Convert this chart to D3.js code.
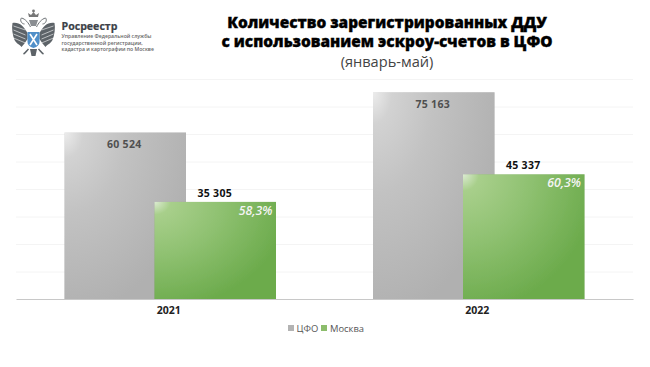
<!DOCTYPE html>
<html><head><meta charset="utf-8">
<script src="https://cdnjs.cloudflare.com/ajax/libs/d3/7.8.5/d3.min.js"></script>
<style>html,body{margin:0;padding:0;background:#fff}svg{display:block}text{font-family:"Open Sans",sans-serif}</style>
</head><body><svg id="c" width="650" height="367"></svg>
<script>
const categories=["2021","2022"];
const seriesNames=["ЦФО","Москва"];
const cfo=[60524,75163];
const moscow=[35305,45337];
const shares=["58,3%","60,3%"];
const gridTicks=[0,10000,20000,30000,40000,50000,60000,70000,80000];
const titleLines=["Количество зарегистрированных ДДУ","с использованием эскроу-счетов в ЦФО"];
const subtitle="(январь-май)";
const orgName="Росреестр";
const orgLines=["Управление Федеральной службы","государственной регистрации,","кадастра и картографии по Москве"];
const fmt=v=>String(v).replace(/\B(?=(\d{3})+$)/g," ");

const svg=d3.select("#c");
const defs=svg.append("defs");
function grad(id,stops){
  const g=defs.append("radialGradient").attr("id",id).attr("cx",0).attr("cy",0).attr("r",1.1)
    .attr("gradientUnits","objectBoundingBox");
  stops.forEach(s=>g.append("stop").attr("offset",s[0]).attr("stop-color",s[1]));
}
grad("gGray",[[0,"#ececec"],[0.14,"#d2d2d2"],[0.45,"#c2c2c2"],[1,"#b0b0b0"]]);
grad("gGreen",[[0,"#dcebd2"],[0.12,"#a8cf8b"],[0.5,"#8fc171"],[1,"#6cab4c"]]);
const f=defs.append("filter").attr("id","sh").attr("x","-5%").attr("y","-5%").attr("width","110%").attr("height","110%");
f.append("feDropShadow").attr("dx",0).attr("dy",0).attr("stdDeviation",0.6).attr("flood-color","#000").attr("flood-opacity",0.25);

const x=d3.scaleBand().domain(categories).range([16,633]);
const y=d3.scaleLinear().domain([0,80000]).range([299,79]);
const barW=121.5, overlapOff=90;
const gx=c=>x(c)+x.bandwidth()/2-(barW+overlapOff)/2;

// grid
svg.append("g").selectAll("line").data(gridTicks.slice(1)).join("line")
  .attr("x1",16).attr("x2",633).attr("y1",d=>y(d)+.5).attr("y2",d=>y(d)+.5)
  .attr("stroke","#f4f4f4").attr("stroke-width",1);
const ax=d3.axisBottom(x).tickSize(0).tickPadding(8);
const axG=svg.append("g").attr("transform","translate(0,299)").call(ax);
axG.select("path").attr("stroke","#c8c8c8").attr("stroke-width",1.2);
axG.selectAll("text").attr("font-size",10.5).attr("font-weight",700).attr("fill","#222").attr("dx",-1.5).attr("font-family",'"Open Sans",sans-serif');

// bars
svg.append("g").selectAll("rect").data(categories).join("rect")
  .attr("x",c=>gx(c)).attr("width",barW)
  .attr("y",(c,i)=>y(cfo[i])).attr("height",(c,i)=>y(0)-y(cfo[i]))
  .attr("fill","url(#gGray)").attr("filter","url(#sh)");
svg.append("g").selectAll("rect").data(categories).join("rect")
  .attr("x",c=>gx(c)+overlapOff).attr("width",barW)
  .attr("y",(c,i)=>y(moscow[i])).attr("height",(c,i)=>y(0)-y(moscow[i]))
  .attr("fill","url(#gGreen)").attr("filter","url(#sh)");

// labels
svg.append("g").selectAll("text").data(categories).join("text")
  .attr("x",c=>gx(c)+barW/2-1).attr("y",(c,i)=>y(cfo[i])+15.5)
  .attr("text-anchor","middle").attr("font-size",10.5).attr("font-weight",700).attr("fill","#505050").attr("letter-spacing",.3)
  .text((c,i)=>fmt(cfo[i]));
svg.append("g").selectAll("text").data(categories).join("text")
  .attr("x",c=>gx(c)+overlapOff+barW/2-.5).attr("y",(c,i)=>y(moscow[i])-5)
  .attr("text-anchor","middle").attr("font-size",10.5).attr("font-weight",700).attr("fill","#111").attr("letter-spacing",.3)
  .text((c,i)=>fmt(moscow[i]));
svg.append("g").selectAll("text").data(categories).join("text")
  .attr("x",c=>gx(c)+overlapOff+barW-3.5).attr("y",(c,i)=>y(moscow[i])+13)
  .attr("text-anchor","end").attr("font-size",12.3).attr("font-weight",600).attr("font-style","italic").attr("fill","#f4f4f4")
  .text((c,i)=>shares[i]);

// title: one text element with a tspan per line
svg.append("text").attr("text-anchor","middle")
  .attr("font-size",15.4).attr("font-weight",800).attr("fill","#000").attr("stroke","#000").attr("stroke-width",.35)
  .selectAll("tspan").data(titleLines).join("tspan")
  .attr("x",387).attr("y",(d,i)=>[28,47][i]).text(d=>d);
svg.append("text").attr("x",387).attr("y",67.3).attr("text-anchor","middle").attr("font-size",14.6).attr("fill","#444").text(subtitle);

// legend
const leg=[{n:seriesNames[0],c:"#b3b3b3",sx:288,tx:296.5},{n:seriesNames[1],c:"#8cbd6c",sx:321,tx:330}];
leg.forEach(l=>{
  svg.append("rect").attr("x",l.sx).attr("y",325).attr("width",6).attr("height",6).attr("fill",l.c);
  svg.append("text").attr("x",l.tx).attr("y",331.5).attr("font-size",9.4).attr("fill","#555").text(l.n);
});

// org block
svg.append("text").attr("x",61.5).attr("y",29.8).attr("font-size",10.6).attr("font-weight",700).attr("fill","#3c4248").attr("stroke","#3c4248").attr("stroke-width",.2).text(orgName);
svg.append("g").selectAll("text").data(orgLines).join("text")
  .attr("x",61.5).attr("y",(d,i)=>[38,44.5,51][i]).attr("font-size",5.15).attr("font-weight",600).attr("fill","#666").text(d=>d);

// emblem
const e=svg.append("g").attr("id","emblem");
const wing=(s)=>{
  const g=e.append("g").attr("transform",`translate(33.5,0) scale(${s},1)`);
  g.append("path").attr("d","M6,33 C10,26 14,22 21,23 C22,28 21,35 19,40 C17,44 14,44 12,47 C10,45 8,42 6,39 Z").attr("fill","#5d6368");
  [[26,30],[30,35],[34,39],[38,43]].forEach(p=>g.append("line").attr("x1",20).attr("x2",8).attr("y1",p[0]).attr("y2",p[1]).attr("stroke","#fff").attr("stroke-width",.6));
  g.append("path").attr("d","M3,27 C5,23 8,19 12,18 C14,20 12,24 9,24").attr("fill","none").attr("stroke","#6b7074").attr("stroke-width",1);
  g.append("path").attr("d","M5,49 C7,51 8,53 10,54").attr("fill","none").attr("stroke","#5d6368").attr("stroke-width",1.6);
};
wing(1);wing(-1);
e.append("path").attr("d","M29,17 L28,13 L31,15 L33.5,12 L36,15 L39,13 L38,17 Z").attr("fill","#777");
e.append("circle").attr("cx",33.5).attr("cy",11).attr("r",1.4).attr("fill","#777");
e.append("path").attr("d","M29,20 L38,20 L36,26 L31,26 Z").attr("fill","#8a8e92");
e.append("path").attr("d","M27.5,32 h12 v10 q0,4 -6,6 q-6,-2 -6,-6 Z").attr("fill","#4f8fc9");
e.append("path").attr("d","M30,34 L37,45 M37,34 L30,45").attr("stroke","#fff").attr("stroke-width",1.6);
e.append("path").attr("d","M30,49 h7 l-1.5,7 h-4 Z").attr("fill","#5d6368");
</script></body></html>
